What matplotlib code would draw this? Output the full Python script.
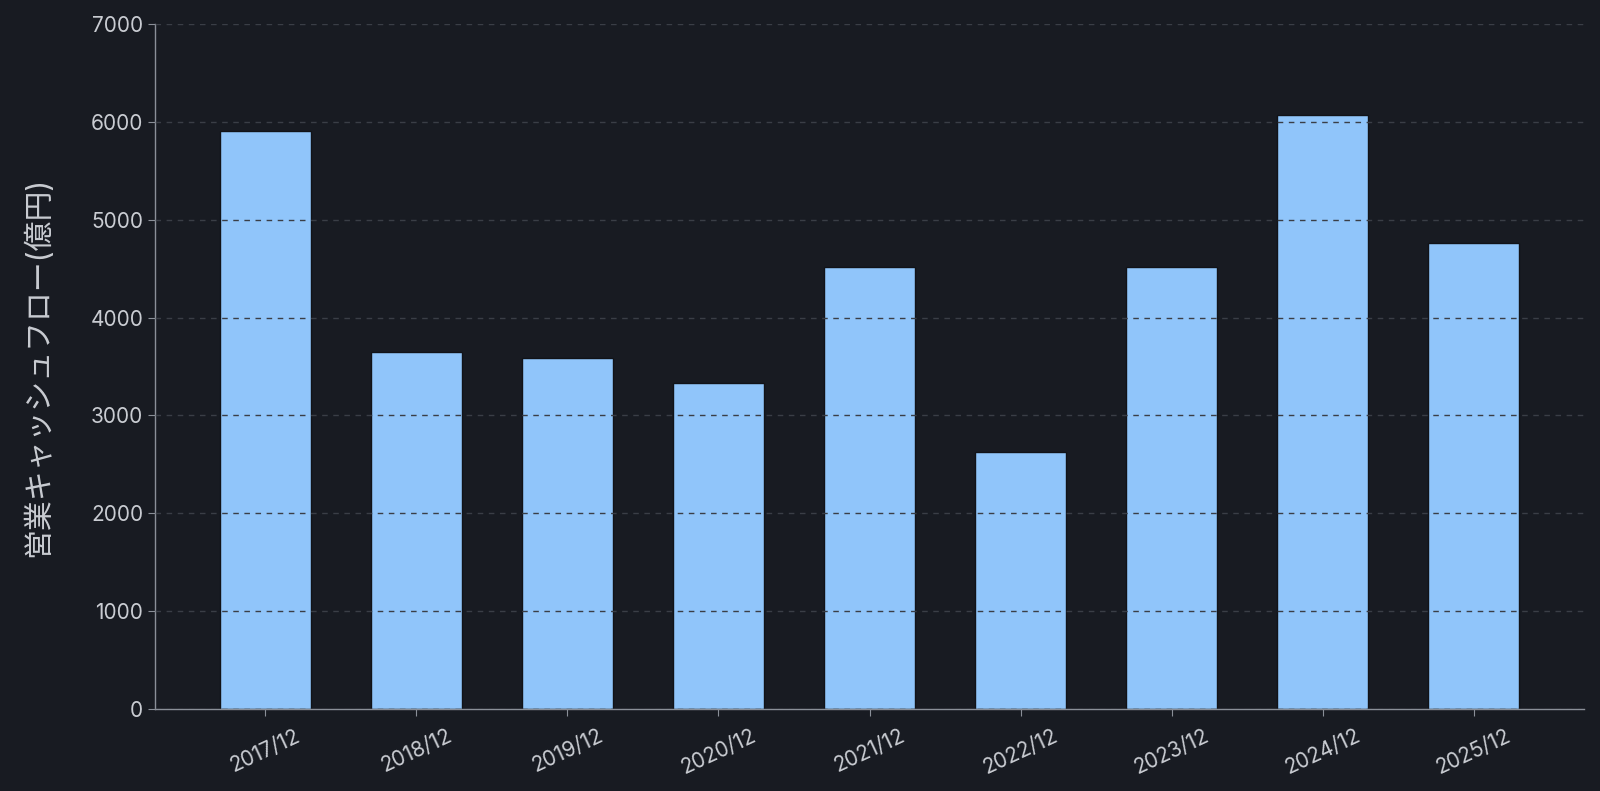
import matplotlib
matplotlib.use('Agg')
import matplotlib.pyplot as plt

# 営業キャッシュフロー（億円）
years = ['2017/12', '2018/12', '2019/12', '2020/12', '2021/12',
         '2022/12', '2023/12', '2024/12', '2025/12']
cash_flow = [5910, 3650, 3585, 3335, 4513, 2626, 4513, 6070, 4763]

plt.rcParams['font.family'] = ['Inter', 'Noto Sans CJK JP', 'DejaVu Sans']

bg = '#181b22'
text_col = '#c9ccd2'

fig = plt.figure(figsize=(16, 7.91), dpi=100, facecolor=bg)
ax = fig.add_axes([155 / 1600, 1 - 709 / 791, (1584 - 155) / 1600, (709 - 24) / 791])
ax.set_facecolor(bg)

x = range(len(years))
ax.bar(x, cash_flow, width=0.6, color='#90c5fa', edgecolor='#111318', linewidth=1.0)

ax.set_ylim(0, 7000)
ax.set_yticks(range(0, 7001, 1000))
ax.set_xticks(list(x))
ax.set_xticklabels(years, rotation=25, ha='center')

# グリッド（棒の上に描く）
ax.set_axisbelow(False)
ax.grid(axis='y', linestyle='--', color='#3a3e46', linewidth=1.0, dashes=(4, 4))

for s in ['top', 'right']:
    ax.spines[s].set_visible(False)
for s in ['left', 'bottom']:
    ax.spines[s].set_color('#8a8f98')
    ax.spines[s].set_linewidth(1.0)

ax.tick_params(colors='#8a8f98', labelcolor=text_col, labelsize=15, length=5)
ax.tick_params(axis='x', pad=7)
ax.set_ylabel('営業キャッシュフロー(億円)', color=text_col, fontsize=21.5, labelpad=27)

fig.savefig('out.png', facecolor=bg)
